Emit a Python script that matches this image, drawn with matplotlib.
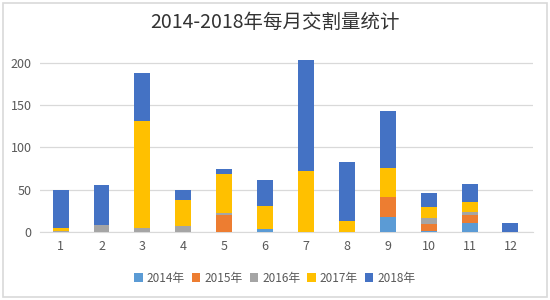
import matplotlib.pyplot as plt
import numpy as np
from matplotlib.patches import Rectangle

plt.rcParams["font.family"] = ["Noto Sans CJK SC", "DejaVu Sans"]

months = ["1", "2", "3", "4", "5", "6", "7", "8", "9", "10", "11", "12"]
years = ["2014年", "2015年", "2016年", "2017年", "2018年"]
colors = ["#5B9BD5", "#ED7D31", "#A5A5A5", "#FFC000", "#4472C4"]

v2014 = [0, 0, 0, 0, 0, 4, 0, 0, 18, 1, 10, 0]
v2015 = [0, 0, 0, 0, 20, 0, 0, 0, 23, 8, 10, 0]
v2016 = [1, 8, 5, 7, 2, 0, 0, 0, 0, 8, 3, 0]
v2017 = [4, 0, 126, 31, 47, 27, 72, 13, 35, 12, 12, 0]
v2018 = [45, 47, 57, 12, 6, 31, 132, 70, 67, 17, 22, 10]

series = [v2014, v2015, v2016, v2017, v2018]

fig = plt.figure(figsize=(5.5, 3.0), dpi=100)
fig.patches.append(Rectangle((0.006, 0.01), 0.988, 0.98, transform=fig.transFigure,
                             fill=False, edgecolor="#D9D9D9", linewidth=1.2))
ax = fig.add_axes([0.073, 0.227, 0.896, 0.591])

x = np.arange(1, len(months) + 1)
bottom = np.zeros(len(months))
for label, vals, color in zip(years, series, colors):
    ax.bar(x, vals, width=0.39, bottom=bottom, color=color, label=label, zorder=3)
    bottom += np.array(vals)

ax.set_xlim(0.5, 12.55)
ax.set_ylim(0, 210)
ax.set_yticks([0, 50, 100, 150, 200])
ax.set_xticks(x)
ax.set_xticklabels(months)
ax.grid(axis="y", color="#D9D9D9", linewidth=0.9, zorder=0)
for side in ["top", "right", "left"]:
    ax.spines[side].set_visible(False)
ax.spines["bottom"].set_color("#D9D9D9")
ax.tick_params(length=0, labelsize=9, colors="#595959", pad=6)

fig.text(0.5, 0.925, "2014-2018年每月交割量统计", ha="center", va="center",
         fontsize=14, color="#333333")

ax.legend(loc="center", bbox_to_anchor=(0.5, 0.073), bbox_transform=fig.transFigure,
          ncol=5, frameon=False, fontsize=8.5, handlelength=0.7, handleheight=0.7,
          handletextpad=0.35, columnspacing=0.6, labelcolor="#595959")

fig.savefig("out.png", dpi=100)
